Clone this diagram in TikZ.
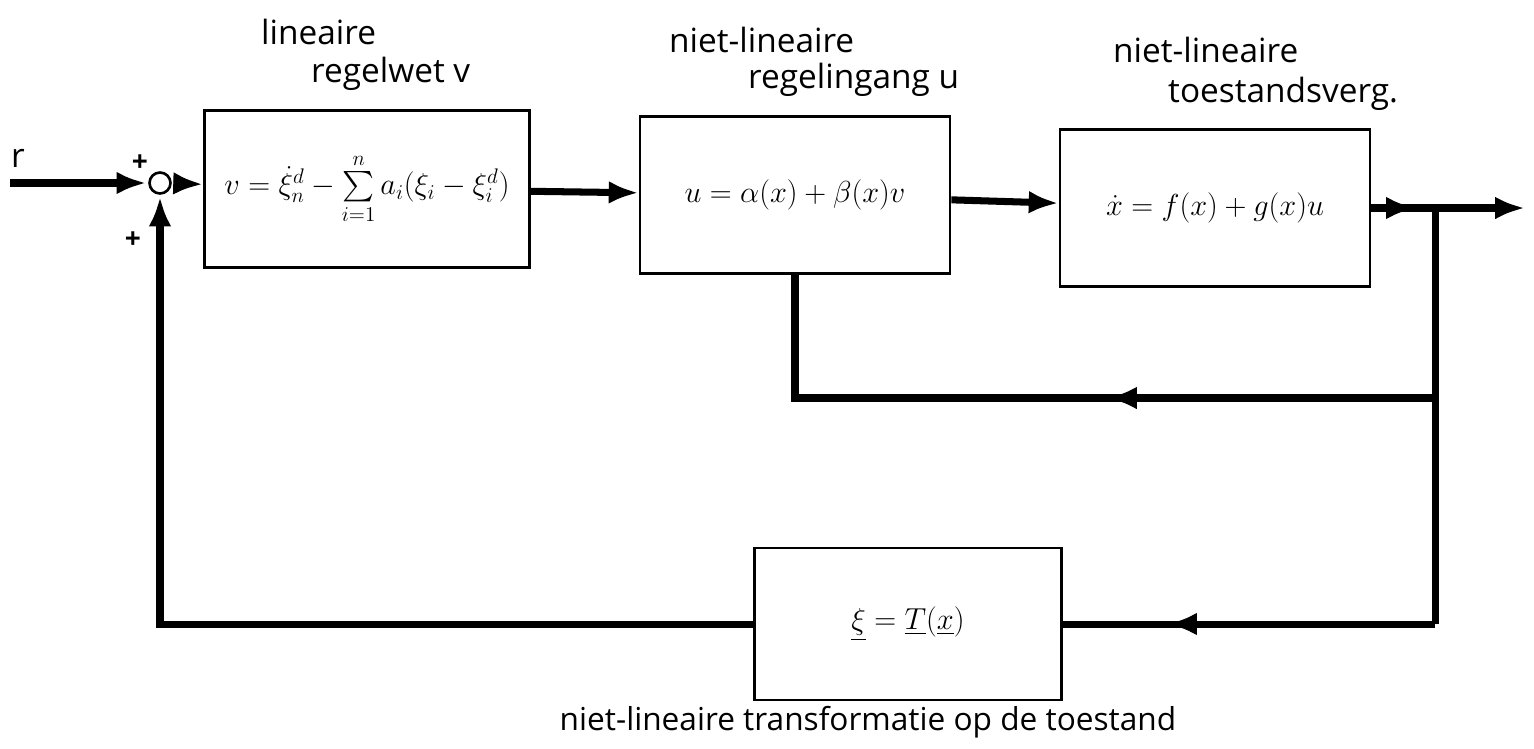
\documentclass[tikz,border=0pt]{standalone}
\usepackage{amsmath}
\usepackage{fontspec}
\setmainfont{Open Sans}
\usetikzlibrary{positioning,arrows.meta,decorations.markings}

\tikzset{
  blok/.style={draw, line width=1.6pt, minimum width=#1, minimum height=3.15cm,
    font=\fontsize{19}{23}\selectfont},
  verb/.style={line width=4pt, -{Latex[length=17pt,width=13pt]}},
  lijn/.style={line width=4pt},
  pijl/.style={postaction={decorate}, decoration={markings,
    mark=at position #1 with {\arrow{Latex[length=17pt,width=13pt]}}}},
  tekst/.style={anchor=west, font=\fontsize{19}{22}\selectfont},
  teken/.style={font=\bfseries\fontsize{16}{18}\selectfont},
}

\begin{document}
\begin{tikzpicture}[x=0.02cm, y=-0.02cm]
    \useasboundingbox (0,0) rectangle (1534,748);

    % blokken
    \node[circle, draw, line width=1.5pt, minimum size=0.42cm, inner sep=0pt] (som) at (160,183) {};
    \node[blok=6.5cm, font=\fontsize{17}{21}\selectfont] (wet) at (367,189) {$v=\dot{\xi}_n^d-\sum\limits_{i=1}^{n}a_i(\xi_i-\xi_i^d)$};
    \node[blok=6.2cm] (reg) at (795,195) {$u=\alpha(x)+\beta(x)v$};
    \node[blok=6.2cm] (sys) at (1215,208) {$\dot{x}=f(x)+g(x)u$};
    \node[blok=6.14cm, minimum height=3.04cm] (trafo) at (908,624) {$\underline{\xi}=\underline{T}(\underline{x})$};

    \coordinate (in) at (10,183);
    \coordinate (tak) at (1435,208);
    \coordinate (uit) at (1525,208);
    \coordinate (t1) at (1435,398);
    \coordinate (t2) at (1435,624);

    % teksten
    \node (r) at (18,158) [font=\fontsize{19}{22}\selectfont] {r};
    \node[teken] (p1) at (140,163) {+};
    \node[teken] (p2) at (133,240) {+};
    \node[tekst] (l1) at (255,32) {lineaire};
    \node[tekst] (l2) at (305,74) {regelwet v};
    \node[tekst] (l3) at (663,40) {niet-lineaire};
    \node[tekst] (l4) at (742,80) {regelingang u};
    \node[tekst] (l5) at (1107,50) {niet-lineaire};
    \node[tekst] (l6) at (1162,94) {toestandsverg.};
    \node[font=\fontsize{18}{22}\selectfont] (l7) at (868,722) {niet-lineaire transformatie op de toestand};

    % verbindingen
    \draw[verb, shorten >=1pt] (in) -- (som);
    \draw[verb, shorten <=1pt] (som) -- (wet);
    \draw[verb] (wet) -- (reg);
    \draw[verb] (reg) -- (sys);
    \draw[lijn, pijl=0.7] (sys) -- (tak);
    \draw[verb] (tak) -- (uit);
    \draw[lijn] (tak) -- (t1) -- (t2);
    \draw[lijn, pijl=0.43] (t1) -| (reg.south);
    \draw[lijn, pijl=0.72] (t2) -- (trafo);
    \draw[verb, shorten >=1pt] (trafo) -| (som.south);
\end{tikzpicture}
\end{document}
